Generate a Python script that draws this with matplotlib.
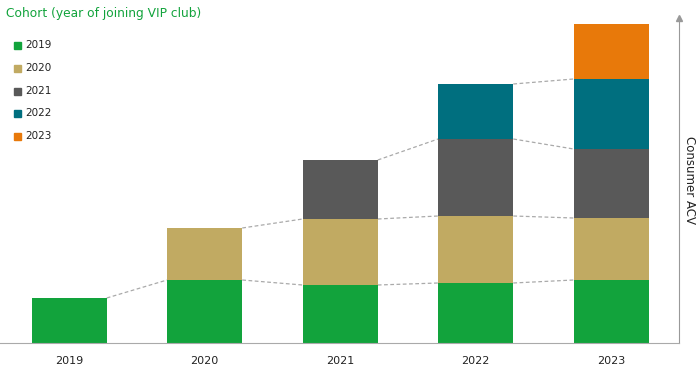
import numpy as np
import matplotlib.pyplot as plt

years = ['2019', '2020', '2021', '2022', '2023']
cohorts = ['2019', '2020', '2021', '2022', '2023']
colors = ['#12a33c', '#c1aa62', '#595959', '#006f7f', '#e8790a']
# values per cohort (rows) for each year (cols)
c2019 = [45, 63, 58, 60, 63]
c2020 = [0, 52, 66, 67, 62]
c2021 = [0, 0, 59, 77, 69]
c2022 = [0, 0, 0, 55, 70]
c2023 = [0, 0, 0, 0, 55]
vals = np.array([c2019, c2020, c2021, c2022, c2023], dtype=float)

fig = plt.figure(figsize=(6.99, 3.78), dpi=100)
ax = fig.add_axes([0, 35/378, 679/699, 325/378])

x = np.arange(len(years))
w = 0.555
bottom = np.zeros(len(years))
for i in range(len(cohorts)):
    mask = vals[i] > 0
    ax.bar(x[mask], vals[i][mask], w, bottom=bottom[mask], color=colors[i], zorder=2)
    top = bottom + vals[i]
    # dashed connectors between same layer tops
    for j in range(len(years) - 1):
        if vals[i][j] > 0 and vals[i][j+1] > 0:
            ax.plot([x[j] + w/2, x[j+1] - w/2], [top[j], top[j+1]],
                    ls=(0, (3, 2)), color='#aaaaaa', lw=0.9, zorder=1)
    bottom = top

ax.set_xlim(-0.51, 4.5)
ax.set_ylim(0, 325)
for s in ['top', 'left']:
    ax.spines[s].set_visible(False)
ax.spines['bottom'].set_color('#aaaaaa')
ax.spines['right'].set_color('#999999')
ax.set_yticks([])
ax.set_xticks(x)
ax.set_xticklabels(years, fontsize=8, color='#222222')
ax.tick_params(axis='x', length=0, pad=9)
ax.plot(1, 1, marker='^', color='#999999', markersize=5, transform=ax.transAxes, clip_on=False)

fig.text(690/699, 1 - 180/378, 'Consumer ACV', rotation=-90, ha='center', va='center',
         fontsize=8.5, color='#222222')

fig.text(6/699, 1 - 14/378, 'Cohort (year of joining VIP club)', fontsize=8.8,
         color='#12a33c', ha='left', va='center')
leg_y = [45, 68, 91, 113, 136]
for i, c in enumerate(cohorts):
    fig.patches.append(plt.Rectangle((14/699, 1 - (leg_y[i] + 3.5)/378), 7/699, 7/378,
                                     color=colors[i], transform=fig.transFigure))
    fig.text(25/699, 1 - leg_y[i]/378, c, fontsize=7.5, color='#222222', ha='left', va='center')

fig.savefig('out.png', dpi=100)
